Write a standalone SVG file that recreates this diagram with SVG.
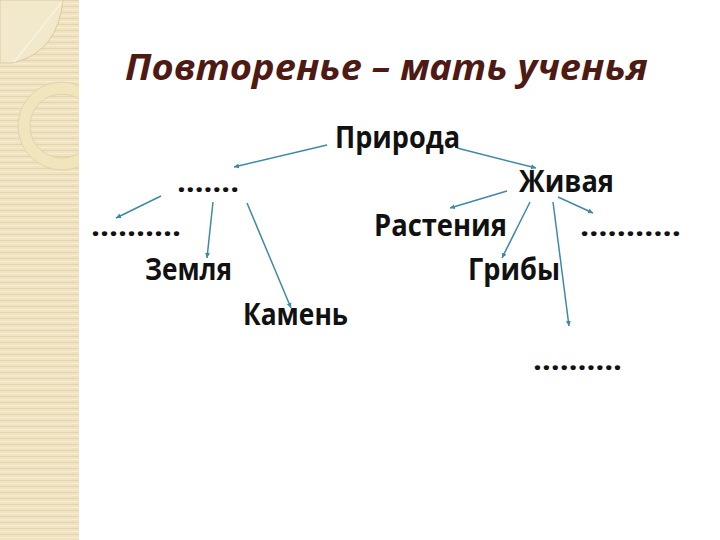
<svg xmlns="http://www.w3.org/2000/svg" width="720" height="540" viewBox="0 0 720 540">
<defs>
<style>
.t{font-family:"Open Sans","Noto Sans","Liberation Sans",sans-serif;font-weight:700;font-size:30px;fill:#111}
.d{font-family:"Open Sans","Noto Sans","Liberation Sans",sans-serif;font-weight:700;font-size:28px;fill:#111}
.title{font-family:"Open Sans","Noto Sans","Liberation Sans",sans-serif;font-weight:700;font-style:italic;font-size:36px;fill:#4e1a14}
.c{stroke:#3e8aa3;stroke-width:1.5;fill:none;marker-end:url(#ah)}
</style>
<marker id="ah" markerWidth="6" markerHeight="6" refX="5" refY="3" orient="auto" markerUnits="userSpaceOnUse">
<path d="M0,0.5 L5,3 L0,5.5 Z" fill="#3e8aa3"/>
</marker>
<pattern id="stripes" width="80" height="6" patternUnits="userSpaceOnUse">
<rect width="80" height="6" fill="#efe3c2"/>
<rect y="0" width="80" height="1" fill="#e5d5ad"/>
<rect y="3" width="80" height="1" fill="#f5ecd3"/>
</pattern>
<clipPath id="strip"><rect width="79" height="540"/></clipPath>
</defs>
<rect width="720" height="540" fill="#ffffff"/>
<g id="sidebar">
<rect width="79" height="540" fill="url(#stripes)"/>
<g clip-path="url(#strip)">
<path d="M0,0 H63 Q58,52 13,63 H0 Z" fill="#f2e8cc" stroke="#dcc99c" stroke-width="1"/>
<path d="M14,62 L62,2" stroke="#f8f1de" stroke-width="2"/>
<circle cx="62" cy="126" r="38" fill="none" stroke="#f1e5bd" stroke-width="11"/>
<circle cx="62" cy="126" r="44" fill="none" stroke="#e2d3a6" stroke-width="1"/>
<circle cx="62" cy="126" r="32" fill="none" stroke="#e2d3a6" stroke-width="1"/>
</g>
</g>
<g id="title"><text class="title" x="125" y="80" textLength="523" lengthAdjust="spacingAndGlyphs">Повторенье – мать ученья</text></g>
<g id="connectors">
<line class="c" x1="327" y1="145" x2="234" y2="167"/>
<line class="c" x1="161" y1="196" x2="116" y2="218"/>
<line class="c" x1="213" y1="202" x2="207" y2="258"/>
<line class="c" x1="247" y1="203" x2="291" y2="308"/>
<line class="c" x1="457" y1="148" x2="536" y2="168"/>
<line class="c" x1="507" y1="191" x2="450" y2="208"/>
<line class="c" x1="530" y1="202" x2="502" y2="258"/>
<line class="c" x1="558" y1="197" x2="593" y2="213"/>
<line class="c" x1="553" y1="202" x2="569" y2="326"/>
</g>
<g id="n-priroda"><text class="t" x="335" y="148" textLength="125" lengthAdjust="spacingAndGlyphs">Природа</text></g>
<g id="n-dots1"><text class="d" x="177" y="192" textLength="62" lengthAdjust="spacingAndGlyphs">…….</text></g>
<g id="n-dots2"><text class="d" x="91" y="236" textLength="90" lengthAdjust="spacingAndGlyphs">……….</text></g>
<g id="n-zemlya"><text class="t" x="145" y="280" textLength="87" lengthAdjust="spacingAndGlyphs">Земля</text></g>
<g id="n-kamen"><text class="t" x="243" y="325" textLength="105" lengthAdjust="spacingAndGlyphs">Камень</text></g>
<g id="n-zhivaya"><text class="t" x="519" y="192" textLength="95" lengthAdjust="spacingAndGlyphs">Живая</text></g>
<g id="n-rasteniya"><text class="t" x="374" y="236" textLength="133" lengthAdjust="spacingAndGlyphs">Растения</text></g>
<g id="n-dots3"><text class="d" x="580" y="236" textLength="101" lengthAdjust="spacingAndGlyphs">………..</text></g>
<g id="n-griby"><text class="t" x="468" y="280" textLength="92" lengthAdjust="spacingAndGlyphs">Грибы</text></g>
<g id="n-dots4"><text class="d" x="533" y="370" textLength="89" lengthAdjust="spacingAndGlyphs">……….</text></g>
</svg>
